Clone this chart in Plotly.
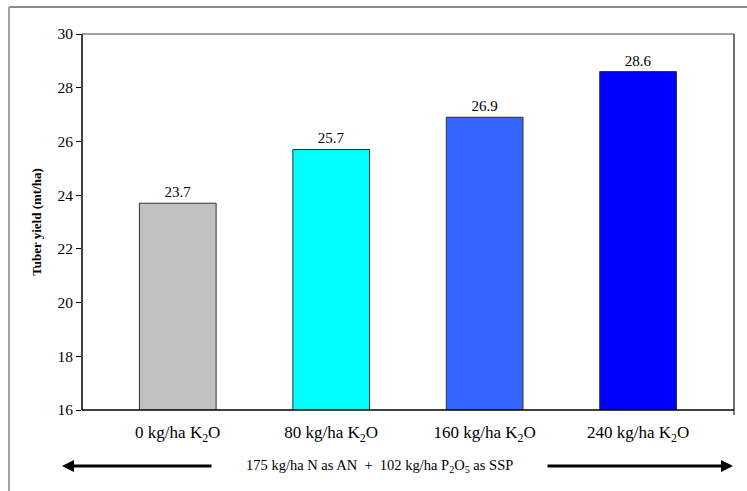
import plotly.graph_objects as go

categories = ["0 kg/ha K<sub>2</sub>O", "80 kg/ha K<sub>2</sub>O", "160 kg/ha K<sub>2</sub>O", "240 kg/ha K<sub>2</sub>O"]
yields = [23.7, 25.7, 26.9, 28.6]
colors = ["#C0C0C0", "#00FFFF", "#3366FF", "#0000FF"]
y_ticks = [16, 18, 20, 22, 24, 26, 28, 30]

FONT = "Liberation Serif"
xpos = list(range(len(categories)))

L, R, T, B = 82, 734, 34, 410
W, H = R - L, B - T
def px(x):
    return (x - L) / W
def py(y):
    return (B - y) / H

fig = go.Figure()
fig.add_trace(go.Bar(
    x=xpos, y=yields, width=0.5,
    marker=dict(color=colors, line=dict(color="#303030", width=1)),
    text=[f"{v:.1f}" for v in yields], textposition="outside",
    textfont=dict(family=FONT, size=15, color="black"),
    cliponaxis=False, showlegend=False, hoverinfo="skip",
))

fig.update_layout(
    width=747, height=491, autosize=False,
    margin=dict(l=L, r=747 - R, t=T, b=491 - B),
    paper_bgcolor="white", plot_bgcolor="white",
    font=dict(family=FONT, color="black"),
    xaxis=dict(
        range=[-0.624, 3.625], tickvals=xpos, ticktext=categories,
        showgrid=False, zeroline=False, showline=False, ticks="",
        ticklabelstandoff=10,
        tickfont=dict(family=FONT, size=17, color="black"),
        fixedrange=True,
    ),
    yaxis=dict(
        range=[16, 30], tickvals=y_ticks, showgrid=False, zeroline=False,
        showline=False, ticks="outside", ticklen=5, tickcolor="black", tickwidth=1,
        tickfont=dict(family=FONT, size=15.5, color="black"),
        title=dict(text="<b>Tuber yield (mt/ha)</b>", font=dict(family=FONT, size=13, color="black"), standoff=12),
        fixedrange=True,
    ),
)

shapes = [
    # outer chart frame
    dict(type="line", xref="paper", yref="paper", x0=px(9), x1=px(760), y0=py(7), y1=py(7), line=dict(color="#8c8c8c", width=2)),
    dict(type="line", xref="paper", yref="paper", x0=px(9), x1=px(9), y0=py(7), y1=py(500), line=dict(color="#a0a0a0", width=2)),
    # plot area border
    dict(type="line", xref="paper", yref="paper", x0=0, x1=1, y0=1, y1=1, line=dict(color="#808080", width=1.5)),
    dict(type="line", xref="paper", yref="paper", x0=1, x1=1, y0=0, y1=1, line=dict(color="#404040", width=1.5)),
    dict(type="line", xref="paper", yref="paper", x0=0, x1=0, y0=0, y1=1, line=dict(color="black", width=1.5)),
    dict(type="line", xref="paper", yref="paper", x0=0, x1=1, y0=0, y1=0, line=dict(color="black", width=1.5)),
    dict(type="line", xref="paper", yref="paper", x0=1, x1=1, y0=0, y1=py(415), line=dict(color="black", width=1)),
]
fig.update_layout(shapes=shapes)

fig.add_annotation(
    x=px(379), y=py(466), xref="paper", yref="paper", showarrow=False,
    xanchor="center", yanchor="middle",
    text="175 kg/ha N as AN  +  102 kg/ha P<sub>2</sub>O<sub>5</sub> as SSP",
    font=dict(family=FONT, size=14.5, color="black"),
)
fig.add_annotation(
    x=px(62), y=py(466), xref="paper", yref="paper", text="", showarrow=True,
    ax=151, ay=0, axref="pixel", ayref="pixel",
    arrowhead=2, arrowsize=0.8, arrowwidth=3, arrowcolor="black",
)
fig.add_annotation(
    x=px(733), y=py(466), xref="paper", yref="paper", text="", showarrow=True,
    ax=-187, ay=0, axref="pixel", ayref="pixel",
    arrowhead=2, arrowsize=0.8, arrowwidth=3, arrowcolor="black",
)

fig.write_html(
    "out.html",
    config={"displayModeBar": False, "staticPlot": True},
    post_script="document.body.style.margin='0';document.body.style.padding='0';",
)
